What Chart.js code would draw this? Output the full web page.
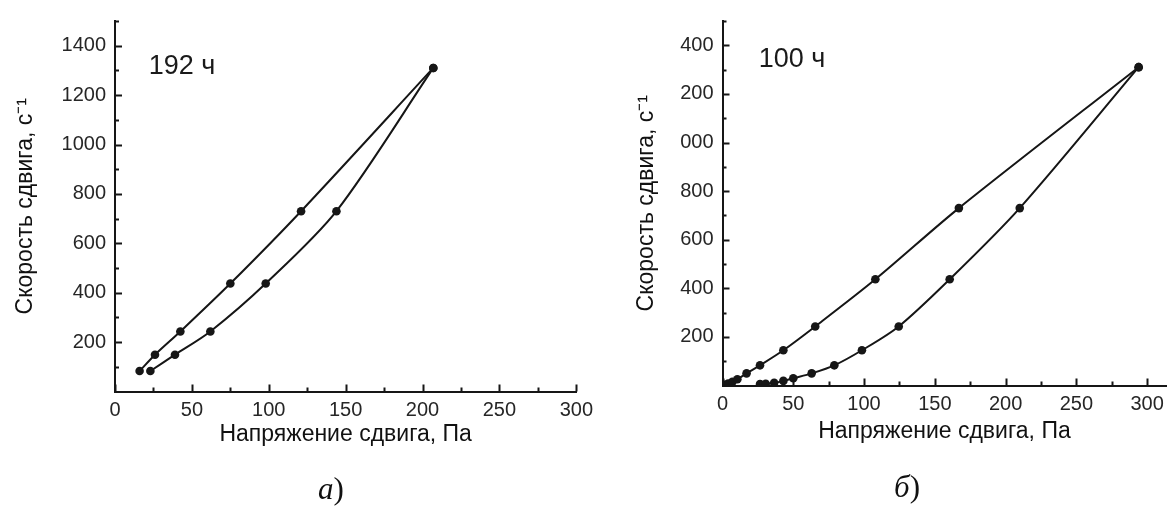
<!DOCTYPE html>
<html>
<head>
<meta charset="utf-8">
<script src="https://cdn.jsdelivr.net/npm/chart.js@4.4.1/dist/chart.umd.min.js"></script>
<style>
  html, body { margin: 0; padding: 0; background: #fff; }
  body { width: 1171px; height: 507px; position: relative; overflow: hidden; font-family: "Liberation Sans", Arial, sans-serif; }
  .box { position: absolute; top: 0; height: 507px; }
  .tag { position: absolute; font-size: 27px; color: #1a1a1a; white-space: nowrap; transform: translate(-50%, -50%); }
  .sub { position: absolute; font-family: "Liberation Serif", "Times New Roman", serif; font-size: 31px; color: #111; transform: translate(-50%, -50%); }
  .sub i { font-style: italic; }
</style>
</head>
<body>
<div class="box" style="left:0;width:600px"><canvas id="chart-a"></canvas></div>
<div class="box" style="left:600px;width:571px"><canvas id="chart-b"></canvas></div>
<div class="tag" style="left:182px;top:65px">192 ч</div>
<div class="tag" style="left:792px;top:58px">100 ч</div>
<div class="sub" style="left:331px;top:489px"><i>а</i>)</div>
<div class="sub" style="left:907px;top:487px"><i>б</i>)</div>
<script>
(function () {
    "use strict";

    // --- data ---
    // panel a (192 h): rising and falling branches
    const stressA1 = [16, 26, 42.5, 75, 121, 207];
    const rateA1 = [83, 149, 243, 437, 730, 1310];
    const stressA2 = [23, 39, 62, 98, 144, 207];
    const rateA2 = [83, 149, 243, 437, 730, 1310];

    // panel b (100 h)
    const stressB1 = [1.5, 4, 7, 10.5, 17, 26.5, 43, 65.5, 108, 167, 294];
    const rateB1 = [3, 8, 15, 26, 50, 83, 145, 243, 437, 730, 1310];
    const stressB2 = [26.5, 30.5, 36.5, 43, 50, 63, 79, 98.5, 124.5, 160.5, 210, 294];
    const rateB2 = [6, 7, 11, 19, 30, 50, 83, 145, 243, 437, 730, 1310];

    // axis ticks (minor every 25 / 100, labels on the majors)
    const xTicks = [0, 25, 50, 75, 100, 125, 150, 175, 200, 225, 250, 275, 300];
    const xLabels = ["0", "", "50", "", "100", "", "150", "", "200", "", "250", "", "300"];
    const yTicks = [100, 200, 300, 400, 500, 600, 700, 800, 900, 1000, 1100, 1200, 1300, 1400, 1500];
    const yLabelsA = ["", "200", "", "400", "", "600", "", "800", "", "1000", "", "1200", "", "1400", ""];
    // the right panel has its leading digits cut off
    const yLabelsB = ["", "200", "", "400", "", "600", "", "800", "", "000", "", "200", "", "400", ""];

    const INK = "#161616";
    const FONT = "'Liberation Sans', Arial, sans-serif";

    const toPoints = (xs, ys) => xs.map((x, i) => ({ x: x, y: ys[i] }));

    const curve = (xs, ys) => ({
        data: toPoints(xs, ys),
        borderColor: INK,
        backgroundColor: INK,
        borderWidth: 2,
        pointRadius: 4.3,
        pointBorderWidth: 0,
        tension: 0.3,
        fill: false,
    });

    // ticks pointing into the plot, like the original
    const innerTicks = {
        id: "innerTicks",
        afterDraw(chart) {
            const ctx = chart.ctx;
            const xs = chart.scales.x;
            const ys = chart.scales.y;
            const area = chart.chartArea;
            ctx.save();
            ctx.strokeStyle = INK;
            ctx.lineWidth = 2;
            ctx.beginPath();
            xTicks.forEach((v, i) => {
                const px = Math.round(xs.getPixelForValue(v)) + 0.5;
                const len = xLabels[i] ? 7 : 4;
                ctx.moveTo(px, area.bottom);
                ctx.lineTo(px, area.bottom - len);
            });
            yTicks.forEach((v, i) => {
                const py = Math.round(ys.getPixelForValue(v)) + 0.5;
                const len = yLabelsA[i] ? 7 : 4;
                ctx.moveTo(area.left, py);
                ctx.lineTo(area.left + len, py);
            });
            ctx.stroke();
            ctx.restore();
        },
    };

    function makeChart(id, sets, yLabels, opt) {
        const ctx = document.getElementById(id).getContext("2d");
        return new Chart(ctx, {
            type: "line",
            data: { datasets: sets },
            options: {
                animation: false,
                responsive: true,
                maintainAspectRatio: false,
                layout: { padding: { left: 0, top: opt.top, right: opt.right, bottom: opt.bottom } },
                plugins: {
                    legend: { display: false },
                    tooltip: { enabled: false },
                },
                scales: {
                    x: {
                        type: "linear",
                        min: 0,
                        max: opt.xMax,
                        grid: { display: false, drawTicks: false },
                        border: { display: true, color: INK, width: 2 },
                        afterBuildTicks: (scale) => {
                            scale.ticks = xTicks.map((v) => ({ value: v }));
                        },
                        afterFit: (scale) => { scale.height = 60; },
                        ticks: {
                            autoSkip: false,
                            maxRotation: 0,
                            padding: 7,
                            color: "#262626",
                            font: { family: FONT, size: 20 },
                            callback: (v) => xLabels[xTicks.indexOf(v)] || "",
                        },
                        title: {
                            display: true,
                            text: "Напряжение сдвига, Па",
                            color: "#111",
                            font: { family: FONT, size: 23 },
                            padding: { top: 0, bottom: opt.xTitlePad },
                        },
                    },
                    y: {
                        type: "linear",
                        min: 0,
                        max: 1500,
                        grid: { display: false, drawTicks: false },
                        border: { display: true, color: INK, width: 2 },
                        afterBuildTicks: (scale) => {
                            scale.ticks = yTicks.map((v) => ({ value: v }));
                        },
                        afterFit: (scale) => { scale.width = opt.yWidth; },
                        ticks: {
                            autoSkip: false,
                            padding: 9,
                            color: "#262626",
                            font: { family: FONT, size: 20 },
                            callback: (v) => yLabels[yTicks.indexOf(v)] || "",
                        },
                        title: {
                            display: true,
                            text: "Скорость сдвига, с⁻¹",
                            color: "#111",
                            font: { family: FONT, size: 23 },
                            padding: { top: opt.yTitlePad, bottom: 0 },
                        },
                    },
                },
            },
            plugins: [innerTicks],
        });
    }

    makeChart("chart-a", [curve(stressA1, rateA1), curve(stressA2, rateA2)], yLabelsA, {
        xMax: 300, top: 18, right: 22, bottom: 55.5, yWidth: 115, xTitlePad: 3, yTitlePad: 12,
    });

    makeChart("chart-b", [curve(stressB1, rateB1), curve(stressB2, rateB2)], yLabelsB, {
        xMax: 313.6, top: 12, right: 0, bottom: 61.5, yWidth: 122.5, xTitlePad: 0, yTitlePad: 33,
    });
})();
</script>
</body>
</html>
